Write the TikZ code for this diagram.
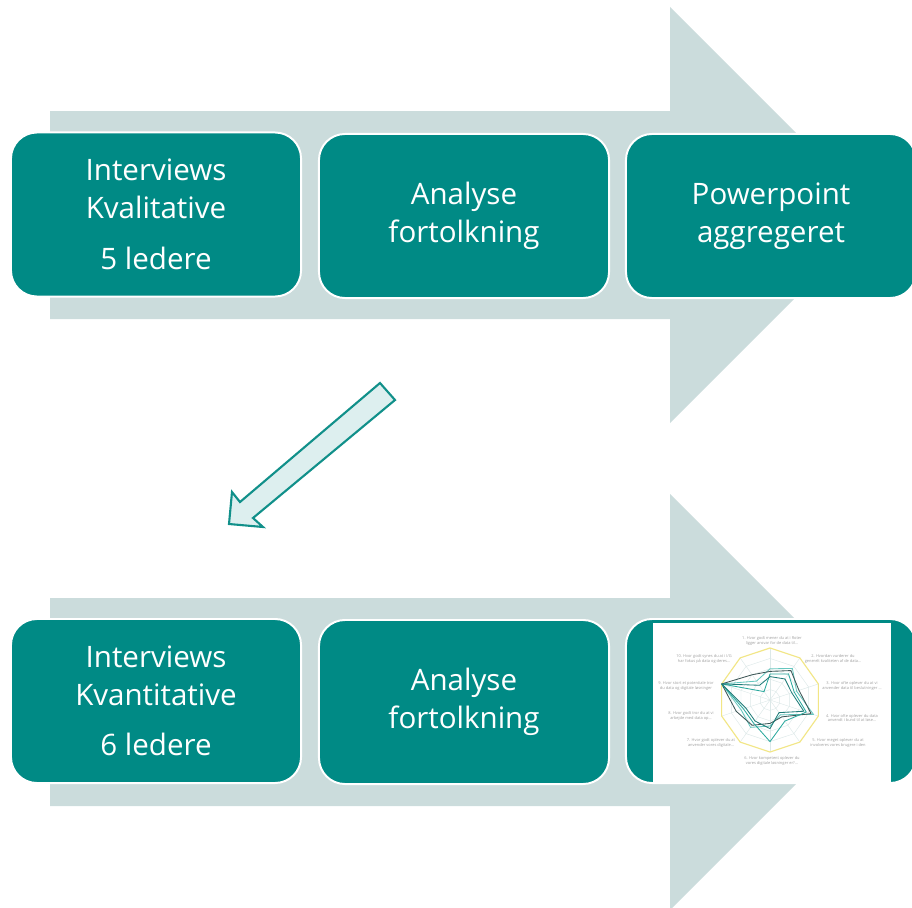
\documentclass[tikz,border=0pt]{standalone}
\usepackage{fontspec}
\setmainfont{Open Sans}
\usepackage{tikz}

\definecolor{tealbox}{HTML}{008A85}
\definecolor{flowgrey}{HTML}{CBDCDC}
\definecolor{arrowfill}{HTML}{DDEFEF}
\definecolor{arrowline}{HTML}{11908A}
\definecolor{chartyellow}{HTML}{F2E685}
\definecolor{chartgrid}{HTML}{DCE8E8}
\definecolor{chartlabel}{HTML}{A0A0A0}
\definecolor{serA}{HTML}{3D5656}
\definecolor{serB}{HTML}{2BA99E}
\definecolor{serC}{HTML}{66C7BF}
\definecolor{serD}{HTML}{1F7B78}

\begin{document}
\begin{tikzpicture}[x=0.025cm, y=-0.025cm,
    stepbox/.style={draw=white, line width=1.4pt, fill=tealbox, rounded corners=0.65cm,
        minimum width=7.25cm, minimum height=4.1cm, inner sep=0pt,
        text=white, align=center, font=\fontsize{21}{27}\selectfont},
    flowarrow/.style={fill=flowgrey},
    qlabel/.style={text=chartlabel, align=center, inner sep=0pt,
        font=\fontsize{2.8}{3.4}\selectfont},
    series/.style={draw=#1, line width=0.6pt, line join=round}]
    \useasboundingbox (0,0) rectangle (912,907);

    % background arrows
    \fill[flowarrow] (50,111) -- (670,111) -- (670,7) -- (878,215) -- (670,423) -- (670,319) -- (50,319) -- cycle;
    \fill[flowarrow] (50,598) -- (670,598) -- (670,494) -- (878,702) -- (670,910) -- (670,806) -- (50,806) -- cycle;

    % top row
    \node[stepbox] (kval) at (156,214.5) {Interviews\\Kvalitative\\[9pt]5 ledere};
    \node[stepbox] (analyse1) at (464,216) {Analyse\\fortolkning};
    \node[stepbox] (ppt) at (771,216) {Powerpoint\\aggregeret};

    % bottom row
    \node[stepbox] (kvant) at (156,701) {Interviews\\Kvantitative\\[9pt]6 ledere};
    \node[stepbox] (analyse2) at (464,702) {Analyse\\fortolkning};
    \node[stepbox] (radar) at (771,701) {};

    % radar chart picture
    \fill[white] (653,623) rectangle (891,783);
    \begin{scope}[shift={(770,700)}, x=1.27cm, y=-1.3cm]
        \foreach \r in {0.2,0.4,0.6,0.8}
            \draw[chartgrid, line width=0.3pt] (-90:\r) \foreach \a in {-54,-18,...,234} {-- (\a:\r)} -- cycle;
        \foreach \a in {-90,-54,...,234}
            \draw[chartgrid, line width=0.3pt] (0,0) -- (\a:1);
        \draw[chartyellow, line width=0.8pt] (-90:1) \foreach \a in {-54,-18,...,234} {-- (\a:1)} -- cycle;
        \draw[series=serC] (-90:.6) -- (-54:.75) -- (-18:.55) -- (18:.9) -- (54:.35) -- (90:.5) -- (126:.65) -- (162:.6) -- (198:1) -- (234:.45) -- cycle;
        \draw[series=serA] (-90:.55) -- (-54:.7) -- (-18:.6) -- (18:.85) -- (54:.4) -- (90:.45) -- (126:.6) -- (162:.7) -- (198:1) -- (234:.6) -- cycle;
        \draw[series=serB] (-90:.5) -- (-54:.62) -- (-18:.5) -- (18:.75) -- (54:.5) -- (90:.8) -- (126:.55) -- (162:.55) -- (198:1) -- (234:.2) -- cycle;
        \draw[series=serD] (-90:.45) -- (-54:.5) -- (-18:.45) -- (18:.7) -- (54:.3) -- (90:.55) -- (126:.5) -- (162:.5) -- (198:1) -- (234:.35) -- cycle;
    \end{scope}
    \node[qlabel] (q1) at (772,641) {1. Hvor godt mener du at i Roter\\ligger ansvar for de data til...};
    \node[qlabel] (q2) at (833,659) {2. Hvordan vurderer du\\generelt kvaliteten af de data...};
    \node[qlabel] (q3) at (852,686) {3. Hvor ofte oplever du at vi\\anvender data til beslutninger ...};
    \node[qlabel] (q4) at (852,718) {4. Hvor ofte oplever du data\\anvendt i bund til at løse...};
    \node[qlabel] (q5) at (838,743) {5. Hvor meget oplever du at\\involveres vores brugere i den};
    \node[qlabel] (q6) at (772,761) {6. Hvor kompetent oplever du\\vores digitale løsninger er?...};
    \node[qlabel] (q7) at (711,743) {7. Hvor godt oplever du at\\anvender vores digitale...};
    \node[qlabel] (q8) at (691,716) {8. Hvor godt tror du at vi\\arbejde med data op...};
    \node[qlabel] (q9) at (686,686) {9. Hvor stort et potentiale tror\\du data og digitale løsninger};
    \node[qlabel] (q10) at (704,659) {10. Hvor godt synes du at i I/G\\har fokus på data og deres...};

    % arrow from top row down to bottom row
    \draw[fill=arrowfill, draw=arrowline, line width=1.5pt, line join=miter]
        (380,383) -- (395,400) -- (253,518) -- (263,527) -- (229,524) -- (232,492) -- (240,502) -- cycle;
\end{tikzpicture}
\end{document}
